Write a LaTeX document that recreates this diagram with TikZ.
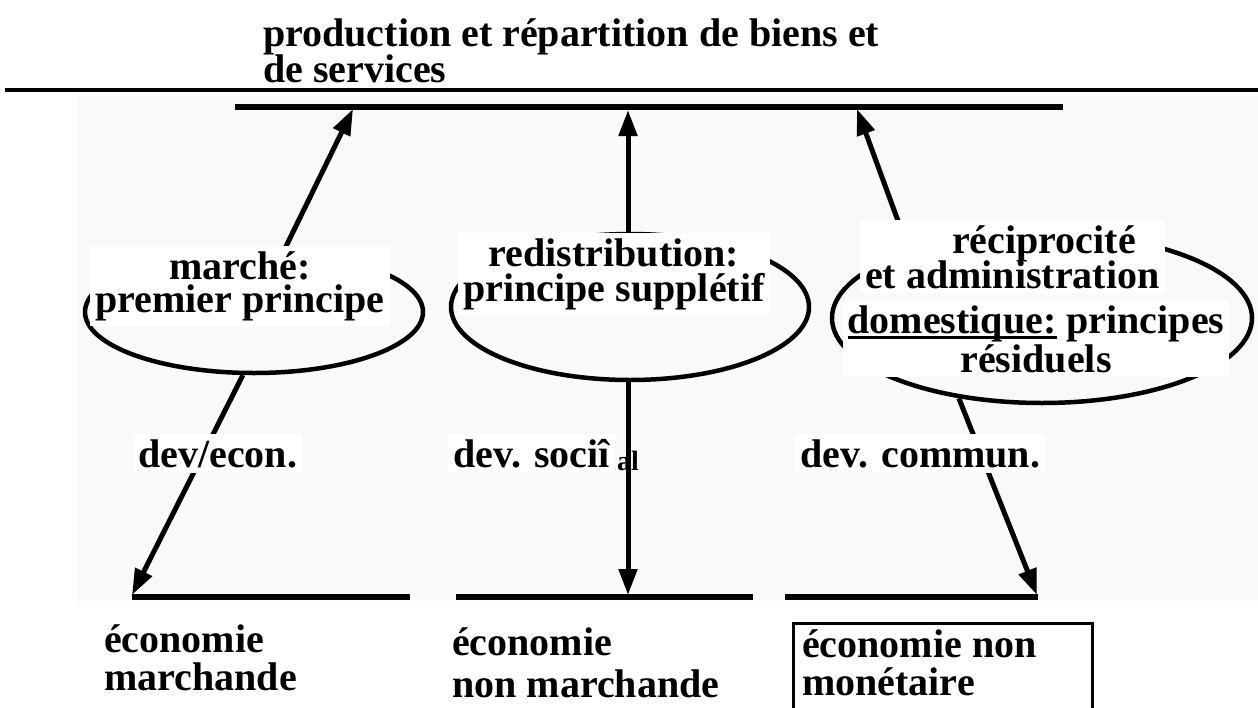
\documentclass[tikz,border=0pt]{standalone}
\usepackage{fontspec}
\setmainfont{Liberation Serif}
\usetikzlibrary{arrows.meta,positioning,shapes.geometric}
\definecolor{fondscan}{HTML}{F9F9F9}
\newcommand{\souligne}[1]{\setbox0\hbox{#1}\rlap{\rule[-6pt]{\wd0}{2.6pt}}\box0\relax}
\newcommand{\serre}{\lineskiplimit-40pt\relax}

\tikzset{
  gras/.style={font={\fontsize{40}{#1}\selectfont\bfseries\serre}, inner sep=0pt},
  gras/.default=31,
  etiquette/.style={gras=#1, fill=white, inner sep=5pt},
  etiquette/.default=31,
  barre/.style={line width=5.5pt},
  fleche/.style={line width=5pt, -{Triangle[length=26pt,width=18pt]}},
  bulle/.style={draw, ellipse, line width=4.5pt, inner sep=0pt}
}

\begin{document}
\begin{tikzpicture}[x=1pt, y=-1pt]
    \useasboundingbox (0,0) rectangle (1258,707);
    \fill[fondscan] (77,95) rectangle (1258,601);

    % titre et filets du haut
    \node[gras=36, anchor=base west, align=left] (titre) at (263,82)
        {production et répartition de biens et\\de services};
    \draw[line width=4pt] (5,89.5) -- (1258,89.5);
    \draw[barre] (235,107) -- (1063,107);

    % cibles sur les barres
    \coordinate (hautG) at (353,109);
    \coordinate (hautM) at (628,110);
    \coordinate (hautD) at (857,109);
    \coordinate (basG) at (132,595);
    \coordinate (basM) at (628,595);
    \coordinate (basD) at (1037,595);

    % barres du bas
    \draw[barre, line width=6pt] (132,597) -- (410,597);
    \draw[barre, line width=6pt] (456,597) -- (753,597);
    \draw[barre, line width=6pt] (785,597) -- (1038,597);

    % les trois principes
    \node[bulle, minimum width=338pt, minimum height=122pt] (marche) at (254,312) {};
    \node[bulle, minimum width=358pt, minimum height=146pt] (redis) at (630,307) {};
    \node[bulle, minimum width=420pt, minimum height=170pt] (recip) at (1042,318) {};

    \draw[fleche] (marche.64) -- (hautG);
    \draw[fleche] (marche.260) -- (basG);
    \draw[fleche] (redis.north -| hautM) -- (hautM);
    \draw[fleche] (redis.south -| basM) -- (basM);
    \draw[fleche] (recip.153) -- (hautD);
    \draw[fleche] (recip.224) -- (basD);

    \node[etiquette=33, anchor=base, align=center] (tmarche) at (240,312)
        {marché:\\premier principe};
    \node[etiquette=35, anchor=base, align=center] (tredis) at (614,301)
        {redistribution:\\principe supplétif};
    \node[etiquette=35, anchor=base west, align=left] (trecipA) at (860,288)
        {\hspace*{87pt}réciprocité\\et administration};
    \node[etiquette=39, anchor=base, align=center] (trecipB) at (1036,372)
        {\souligne{domestique:} principes\\résiduels};

    % developpements
    \node[etiquette, anchor=base west] (dEcon) at (133,467) {dev/econ.};
    \node[gras, font=\fontsize{28}{28}\selectfont\bfseries, anchor=base west] (dSocB) at (617,470) {al};
    \draw[line width=5pt] (redis.south -| basM) -- ++(0,120);
    \node[etiquette, anchor=base west] (dSoc) at (448,467) {dev. sociî};
    \node[etiquette, anchor=base west] (dComm) at (795,467) {dev. commun.};

    % les trois economies
    \node[gras=38, anchor=base west, align=left] (ecoMarch) at (104,690)
        {économie\\marchande};
    \node[gras=42, anchor=base west, align=left] (ecoNonMarch) at (452,697)
        {économie\\non marchande};
    \node[gras=38, anchor=base west, align=left] (ecoNonMon) at (802,695)
        {économie non\\monétaire};
    \draw[line width=3pt] (793,710) |- (1092,623) -- (1092,710);
\end{tikzpicture}
\end{document}
